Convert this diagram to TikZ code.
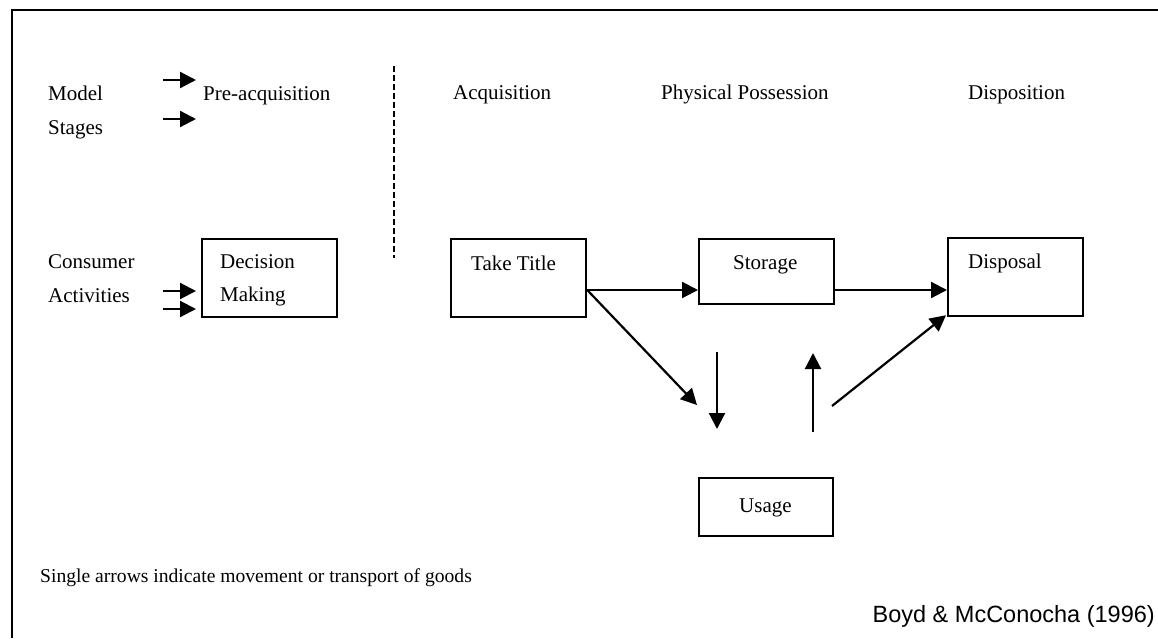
\documentclass[tikz,border=0pt]{standalone}
\usepackage{fontspec}
\setmainfont{Liberation Serif}
\newfontfamily\arialfont{Liberation Sans}
\usetikzlibrary{arrows.meta,calc}
\begin{document}
\begin{tikzpicture}[x=1pt,y=-1pt,
  box/.style={draw, line width=2.2pt, inner sep=0pt, anchor=north west, minimum width=135pt},
  lbl/.style={anchor=base west, inner sep=0pt, font=\fontsize{21}{25}\selectfont},
  arr/.style={line width=2.2pt, -{Triangle[length=16pt,width=16pt]}},
  frame/.style={line width=2.2pt},
  divider/.style={line width=2.2pt, dash pattern=on 6pt off 3pt}
  ]
\useasboundingbox (0,0) rectangle (1158,638);
% frame (top and left only)
\draw[frame] (1158,10) -- (12,10) -- (12,638);

% stage headings
\node[lbl] (model) at (48,100) {Model};
\node[lbl] (stages) at (48,134) {Stages};
\node[lbl] (pre) at (203,100) {Pre-acquisition};
\node[lbl] (acq) at (453,99) {Acquisition};
\node[lbl] (phys) at (661,99) {Physical Possession};
\node[lbl] (disp) at (968,99) {Disposition};

\coordinate (a1s) at (163,80);
\coordinate (a1e) at (196,80);
\coordinate (a2s) at (163,119);
\coordinate (a2e) at (196,119);
\draw[arr] (a1s) -- (a1e);
\draw[arr] (a2s) -- (a2e);

% divider
\coordinate (dvt) at (394,66);
\coordinate (dvb) at (394,258);
\draw[divider] (dvt) -- (dvb);

% consumer activities
\node[lbl] (cons) at (48,268) {Consumer};
\node[lbl] (act) at (48,302) {Activities};

% boxes
\node[box, minimum height=78pt] (dm) at (201,238) {};
\node[lbl] (dmt1) at (220,268) {Decision};
\node[lbl] (dmt2) at (220,301) {Making};

\node[box, minimum height=78pt] (tt) at (450,238) {};
\node[lbl] (ttt) at (471,270) {Take Title};

\node[box, minimum height=65pt] (st) at (698,238) {};
\node[lbl] (stt) at (733,269) {Storage};

\node[box, minimum height=78pt] (ds) at (947,237) {};
\node[lbl] (dst) at (968,268) {Disposal};

\node[box, minimum width=134pt, minimum height=58pt] (us) at (698,477) {};
\node[lbl] (ust) at (739,512) {Usage};

% arrows into decision making
\coordinate (c1s) at (163,291);
\coordinate (c2s) at (163,309);
\draw[arr, shorten >=5pt] (c1s) -- (c1s -| dm.west);
\draw[arr, shorten >=5pt] (c2s) -- (c2s -| dm.west);

% flow arrows
\coordinate (ttout) at ($(tt.north east)+(0,52)$);
\coordinate (stout) at ($(st.north east)+(0,52)$);
\draw[arr] (ttout) -- (ttout -| st.west);
\draw[arr] (stout) -- (stout -| ds.west);

\coordinate (d1) at (697,405);
\draw[arr] (ttout) -- (d1);

\coordinate (v1t) at (717,352);
\coordinate (v1b) at (717,429);
\draw[arr] (v1t) -- (v1b);

\coordinate (v2b) at (813,432);
\coordinate (v2t) at (813,353);
\draw[arr] (v2b) -- (v2t);

\coordinate (d2) at (832,406);
\draw[arr] (d2) -- ($(ds.south west)+(-1,-2)$);

% notes
\node[anchor=base west, inner sep=0pt, font=\fontsize{19.6}{23}\selectfont] (note) at (40,582) {Single arrows indicate movement or transport of goods};
\node[anchor=base east, inner sep=0pt, font=\arialfont\fontsize{23.5}{28}\selectfont] (src) at (1155,622) {Boyd \& McConocha (1996)};
\end{tikzpicture}
\end{document}
